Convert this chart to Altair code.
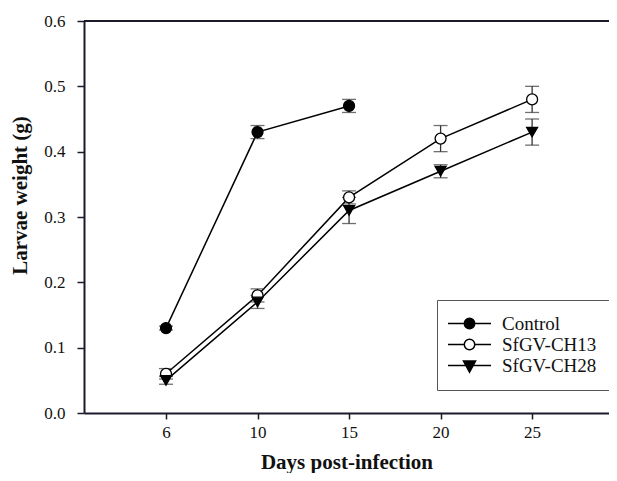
import altair as alt
import pandas as pd

days = [6, 10, 15, 20, 25]
series_names = ["Control", "SfGV-CH13", "SfGV-CH28"]
series_shapes = ["circle", "circle", "triangle-down"]
series_fills = ["black", "white", "black"]

control_mean = [0.13, 0.43, 0.47]
control_err = [0.003, 0.01, 0.01]
ch13_mean = [0.06, 0.18, 0.33, 0.42, 0.48]
ch13_err = [0.008, 0.01, 0.01, 0.02, 0.02]
ch28_mean = [0.05, 0.17, 0.31, 0.37, 0.43]
ch28_err = [0.006, 0.01, 0.02, 0.01, 0.02]

rows = []
for name, means, errs in [("Control", control_mean, control_err),
                          ("SfGV-CH13", ch13_mean, ch13_err),
                          ("SfGV-CH28", ch28_mean, ch28_err)]:
    for i, (m, e) in enumerate(zip(means, errs)):
        rows.append({"series": name, "idx": i + 1, "day": days[i],
                     "mean": m, "lo": m - e, "hi": m + e})
df = pd.DataFrame(rows)

label_expr = "[" + ",".join("'%d'" % d for d in days) + "][datum.value - 1]"

FONT = "Liberation Serif"

x = alt.X("idx:Q",
          scale=alt.Scale(domain=[0.104, 5.84], nice=False, zero=False),
          axis=alt.Axis(values=list(range(1, len(days) + 1)), labelExpr=label_expr,
                        title="Days post-infection", grid=False,
                        domainColor="#1a1a2a", domainWidth=2,
                        tickColor="#1a1a2a", tickWidth=1.5, tickSize=6,
                        labelFont=FONT, labelFontSize=17, labelColor="#111",
                        labelPadding=5,
                        titleFont=FONT, titleFontSize=21, titleFontWeight="bold",
                        titleColor="#111", titleBaseline="alphabetic", titleY=55))
y = alt.Y("mean:Q",
          scale=alt.Scale(domain=[0, 0.6], nice=False),
          axis=alt.Axis(values=[0, 0.1, 0.2, 0.3, 0.4, 0.5, 0.6], format=".1f",
                        title="Larvae weight (g)", grid=False,
                        domainColor="#1a1a2a", domainWidth=2,
                        tickColor="#1a1a2a", tickWidth=1.5, tickSize=7,
                        labelFont=FONT, labelFontSize=17, labelColor="#111",
                        labelPadding=12,
                        titleFont=FONT, titleFontSize=21, titleFontWeight="bold",
                        titleColor="#111", titleX=-54, titleY=174))

base = alt.Chart(df)

lines = base.mark_line(color="black", strokeWidth=1.5).encode(
    x=x, y=y, detail="series:N")

err_rule = base.mark_rule(color="#333", strokeWidth=1.3).encode(
    x="idx:Q", y="lo:Q", y2="hi:Q")
err_lo = base.mark_tick(orient="horizontal", size=14, thickness=1.3, color="#333").encode(
    x="idx:Q", y="lo:Q")
err_hi = base.mark_tick(orient="horizontal", size=14, thickness=1.3, color="#333").encode(
    x="idx:Q", y="hi:Q")

point_layers = []
for name, shp, fil in zip(series_names, series_shapes, series_fills):
    point_layers.append(
        base.transform_filter(alt.datum.series == name)
        .mark_point(shape=shp, filled=True, fill=fil, stroke="black",
                    strokeWidth=1.3, opacity=1, size=120)
        .encode(x="idx:Q", y="mean:Q"))

# legend-only layer (no marks drawn): custom symbol paths (line + marker)
line_path = "M-2.27,0H0.69 M2.59,0H5.55 "
circle_path = "M0.69,0A0.95,0.95 0 1,0 2.59,0A0.95,0.95 0 1,0 0.69,0Z"
tri_path = "M-2.27,0H5.55 M0.54,-0.8L2.74,-0.8L1.64,1.2Z"

legend_layer = base.transform_filter("false").mark_point(
    filled=True, stroke="black", strokeWidth=1.5, opacity=1).encode(
    x="idx:Q", y="mean:Q",
    shape=alt.Shape("series:N", sort=series_names,
                    scale=alt.Scale(domain=series_names,
                                    range=[line_path + circle_path,
                                           line_path + circle_path,
                                           tri_path])),
    fill=alt.Fill("series:N", sort=series_names,
                  scale=alt.Scale(domain=series_names, range=series_fills),
                  legend=alt.Legend(
                      title=None, orient="none", legendX=353, legendY=279,
                      padding=14, rowPadding=1, labelOffset=32,
                      labelFont=FONT, labelFontSize=19, labelColor="#111",
                      symbolSize=121, strokeColor="#555", fillColor="white",
                      symbolStrokeColor="black", symbolStrokeWidth=1.5,
                      symbolOpacity=1)),
)

top_rule = alt.Chart(df).mark_rule(color="#1a1a2a", strokeWidth=2).encode(
    y=alt.datum(0.6))

chart = alt.layer(lines, err_rule, err_lo, err_hi, *point_layers, legend_layer, top_rule).properties(
    width=525, height=392,
    autosize=alt.AutoSizeParams(type="none"),
    padding={"left": 76, "top": 13, "right": 0, "bottom": 60},
).configure_view(stroke=None).configure(
    background="white"
).configure_axis(labelFont=FONT, titleFont=FONT).configure_legend(labelFont=FONT)

chart.save("out.html", embed_options={"renderer": "svg", "actions": False})
